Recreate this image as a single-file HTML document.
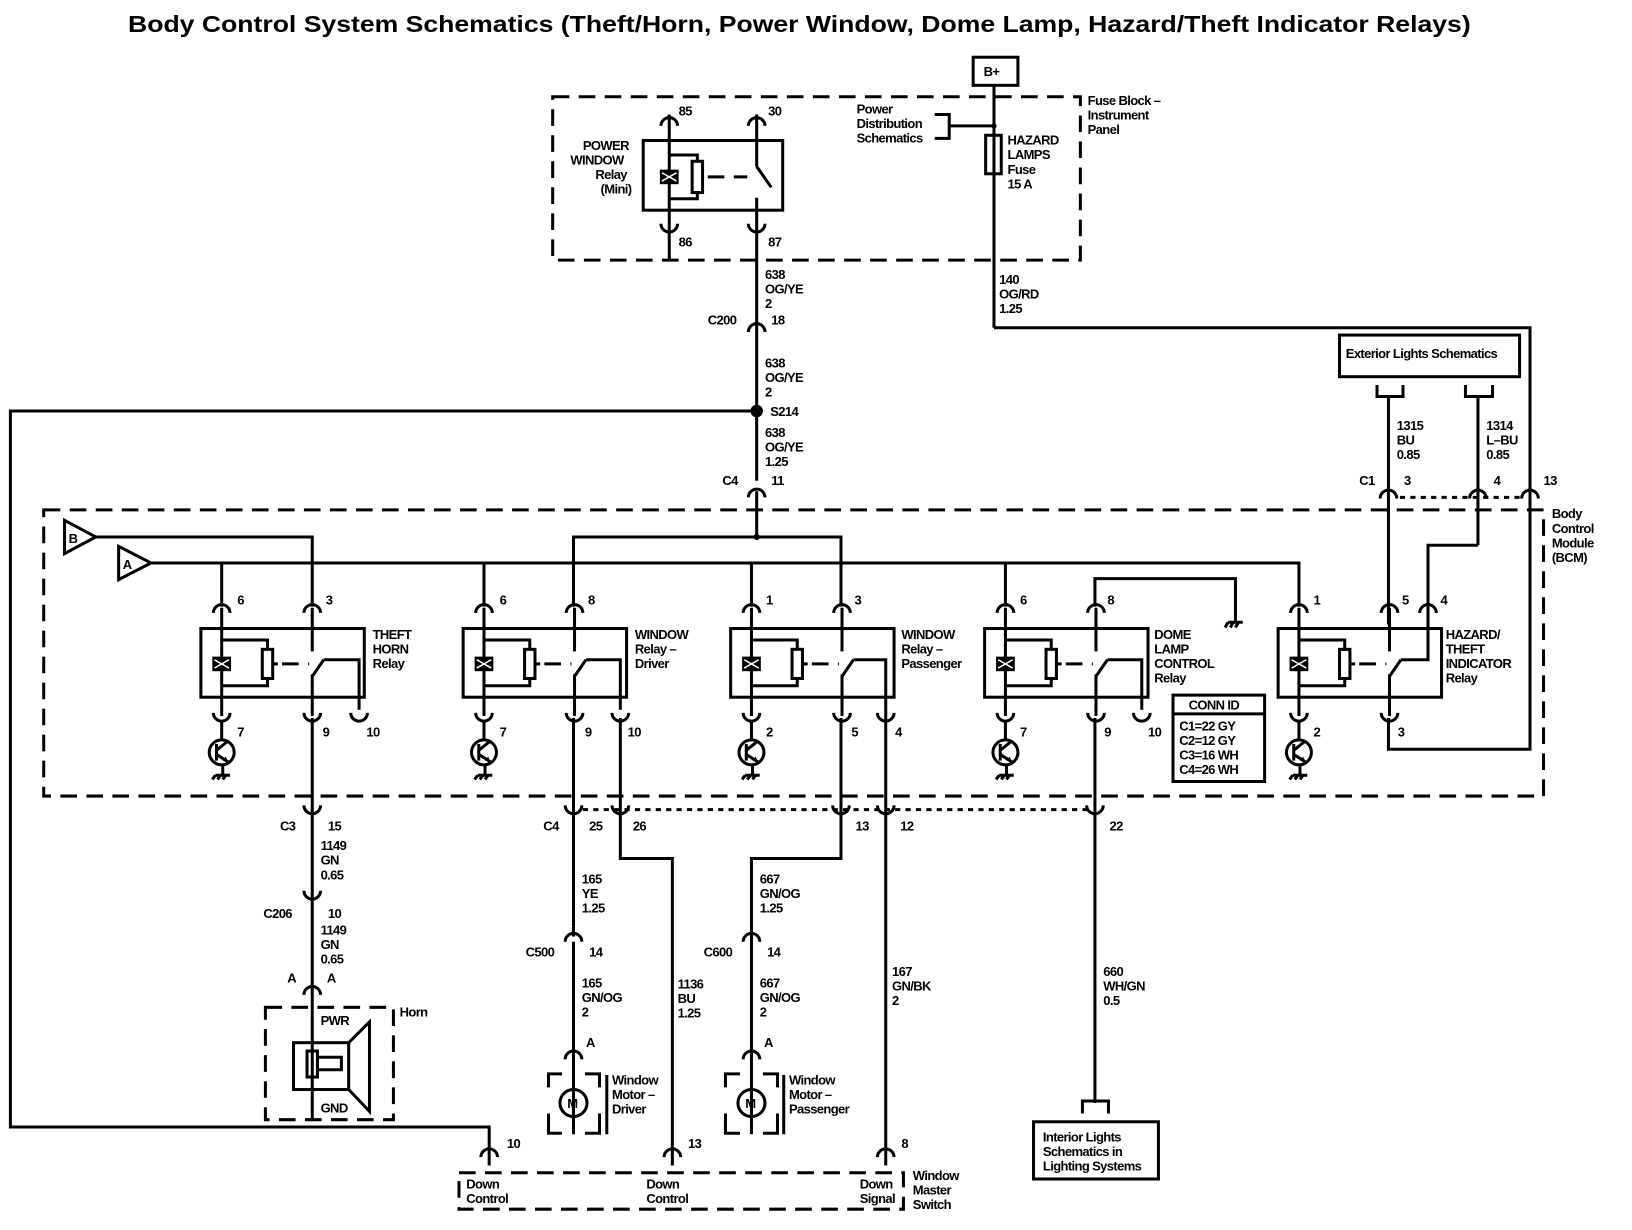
<!DOCTYPE html>
<html><head><meta charset="utf-8"><style>
html,body{margin:0;padding:0;background:#fff;}
svg{display:block;}
text{font-family:"Liberation Sans",sans-serif;font-weight:bold;font-size:12.5px;fill:#000;letter-spacing:-0.6px;}
.w{stroke:#000;stroke-width:2.9;fill:none;}
.d{stroke:#000;stroke-width:2.9;fill:none;stroke-dasharray:16 9;}
.dt{stroke:#000;stroke-width:2.9;fill:none;stroke-dasharray:5 5;}
</style></head><body>
<svg width="1632" height="1230" viewBox="0 0 1568 1182" preserveAspectRatio="none" xmlns="http://www.w3.org/2000/svg">
<defs>
<path id="cT" d="M-8 6 A8 8 0 0 1 8 6" class="w"/>
<path id="cB" d="M-8 -6 A8 8 0 0 0 8 -6" class="w"/>
<g id="relay">
 <rect x="0" y="0" width="157" height="66" class="w"/>
 <line x1="20" y1="-20" x2="20" y2="84" class="w" stroke-width="4"/>
 <rect x="11" y="27" width="18" height="14" fill="#000"/>
 <path d="M13 30 L27 38 M13 38 L27 30" stroke="#fff" stroke-width="1.5"/>
 <path d="M20 11 H64 V20 M64 48 V55 H20" class="w"/>
 <rect x="59" y="20" width="10" height="28" class="w"/>
 <line x1="69" y1="34" x2="74" y2="34" class="w"/>
 <line x1="78" y1="34" x2="104" y2="34" class="d" stroke-dasharray="10 7"/>
 <line x1="107" y1="-20" x2="107" y2="22" class="w" stroke-width="4"/>
 <path d="M107 46 L118 30" class="w"/>
 <line x1="107" y1="44" x2="107" y2="84" class="w" stroke-width="4"/>
 <use href="#cT" x="20" y="-21"/>
 <use href="#cT" x="107" y="-21"/>
 <use href="#cB" x="20" y="87"/>
 <use href="#cB" x="107" y="87"/>
</g>
<g id="tr">
 <circle cx="0" cy="0" r="12" class="w"/>
 <path d="M-5 -8 V8 M-5 -2 L5 -10 M-5 2 L6 9 M0 -12 V-30" class="w"/>
 <path d="M6 9 L1 8 L4 4 Z" fill="#000"/>
 <path d="M1 12 V22 M-6 22 H8 M-6 22 L-9 26 M-1 22 L-4 26 M4 22 L1 26" class="w" stroke-width="2"/>
</g>
</defs>

<text x="123" y="31" textLength="1290" lengthAdjust="spacingAndGlyphs" style="font-size:22px;letter-spacing:0">Body Control System Schematics (Theft/Horn, Power Window, Dome Lamp, Hazard/Theft Indicator Relays)</text>

<!-- B+ -->
<rect x="935" y="55" width="43" height="27" class="w" stroke-width="3"/>
<text x="945" y="73">B+</text>
<!-- Fuse block -->
<rect x="531" y="93" width="507" height="157" class="d"/>
<text x="1045" y="101">Fuse Block –</text><text x="1045" y="115">Instrument</text><text x="1045" y="129">Panel</text>
<!-- power window relay -->
<rect x="618" y="135" width="134" height="67" class="w"/>
<line x1="643" y1="110" x2="643" y2="250" class="w" stroke-width="4"/>
<rect x="634" y="163" width="18" height="14" fill="#000"/>
<path d="M636 166 L650 174 M636 174 L650 166" stroke="#fff" stroke-width="1.5"/>
<path d="M643 149 H670 V155 M670 185 V191 H643" class="w"/>
<rect x="665" y="155" width="10" height="30" class="w"/>
<line x1="680" y1="170" x2="718" y2="170" class="d" stroke-dasharray="10 7"/>
<line x1="727" y1="110" x2="727" y2="160" class="w" stroke-width="4"/>
<path d="M727 160 L741 180" class="w"/>
<line x1="727" y1="190" x2="727" y2="462" class="w"/>
<use href="#cT" x="643" y="115"/><use href="#cT" x="727" y="115"/>
<use href="#cB" x="643" y="221"/><use href="#cB" x="727" y="221"/>
<text x="652" y="111">85</text><text x="738" y="111">30</text>
<text x="652" y="237">86</text><text x="738" y="237">87</text>
<text x="560" y="144">POWER</text><text x="548" y="158">WINDOW</text><text x="572" y="172">Relay</text><text x="577" y="186">(Mini)</text>
<text x="823" y="109">Power</text><text x="823" y="123">Distribution</text><text x="823" y="137">Schematics</text>
<path d="M898 110 H912 V133 H898 M912 121 H955" class="w"/>
<circle cx="955" cy="121" r="2.5" fill="#000"/>
<line x1="955" y1="82" x2="955" y2="315" class="w"/>
<rect x="947" y="130" width="15" height="37" class="w" fill="#fff"/>
<text x="968" y="139">HAZARD</text><text x="968" y="153">LAMPS</text><text x="968" y="167">Fuse</text><text x="968" y="181">15 A</text>
<text x="960" y="273">140</text><text x="960" y="287">OG/RD</text><text x="960" y="301">1.25</text>
<path d="M955 315 H1470 V478" class="w"/>

<!-- main 638 wire -->
<text x="735" y="268">638</text><text x="735" y="282">OG/YE</text><text x="735" y="296">2</text>
<use href="#cT" x="727" y="313"/>
<text x="680" y="312">C200</text><text x="741" y="312">18</text>
<text x="735" y="353">638</text><text x="735" y="367">OG/YE</text><text x="735" y="381">2</text>
<circle cx="727" cy="395" r="6" fill="#000"/>
<text x="740" y="400">S214</text>
<text x="735" y="420">638</text><text x="735" y="434">OG/YE</text><text x="735" y="448">1.25</text>
<text x="694" y="466">C4</text><text x="741" y="466">11</text>
<use href="#cT" x="727" y="472"/>
<line x1="727" y1="472" x2="727" y2="516" class="w"/>
<path d="M727 395 H10 V1083 H470 V1120" class="w"/>

<!-- Exterior lights -->
<rect x="1287" y="322" width="173" height="40" class="w"/>
<text x="1293" y="344">Exterior Lights Schematics</text>
<path d="M1323 370 V381 H1348 V370 M1408 370 V381 H1434 V370" class="w"/>
<line x1="1334" y1="381" x2="1334" y2="600" class="w"/>
<line x1="1420" y1="381" x2="1420" y2="524" class="w"/>
<text x="1342" y="413">1315</text><text x="1342" y="427">BU</text><text x="1342" y="441">0.85</text>
<text x="1428" y="413">1314</text><text x="1428" y="427">L–BU</text><text x="1428" y="441">0.85</text>
<text x="1306" y="466">C1</text><text x="1349" y="466">3</text><text x="1435" y="466">4</text><text x="1483" y="466">13</text>
<use href="#cT" x="1334" y="473"/><use href="#cT" x="1420" y="473"/><use href="#cT" x="1470" y="473"/>
<line x1="1345" y1="478" x2="1460" y2="478" class="dt" stroke-dasharray="8 6"/>
<path d="M1420 524 H1372 V600" class="w"/>
<path d="M1334 690 V720 H1470 V478" class="w"/>

<!-- BCM -->
<rect x="42" y="490" width="1441" height="275" class="d"/>
<text x="1491" y="498">Body</text><text x="1491" y="512">Control</text><text x="1491" y="526">Module</text><text x="1491" y="540">(BCM)</text>
<path d="M62 500 L92 516 L62 532 Z" class="w" fill="#fff"/><text x="66" y="522">B</text>
<path d="M114 525 L145 541 L114 557 Z" class="w" fill="#fff"/><text x="118" y="547">A</text>
<path d="M92 516 H300 V583" class="w"/>
<path d="M551 583 V516 H808 V583" class="w"/>
<circle cx="727" cy="516" r="3" fill="#000"/>
<path d="M145 541 H1248 V583" class="w"/>
<path d="M213 541 V583 M465 541 V583 M722 541 V583 M966 541 V583" class="w"/>
<path d="M1052 583 V556 H1187 V598" class="w"/>
<path d="M1180 598 H1194 M1180 598 L1177 603 M1185 598 L1182 603 M1190 598 L1187 603" class="w" stroke-width="2"/>

<!-- relays -->
<use href="#relay" x="193" y="604"/>
<use href="#relay" x="445" y="604"/>
<use href="#relay" x="702" y="604"/>
<use href="#relay" x="946" y="604"/>
<use href="#relay" x="1228" y="604"/>
<!-- third contacts -->
<path d="M311 634 H345 V682" class="w"/><use href="#cB" x="345" y="691"/>
<path d="M563 634 H596 V682" class="w"/><use href="#cB" x="596" y="691"/>
<path d="M820 634 H851 V690" class="w"/><use href="#cB" x="851" y="691"/>
<path d="M1064 634 H1097 V682" class="w"/><use href="#cB" x="1097" y="691"/>
<path d="M1346 634 H1372 V583" class="w"/><use href="#cT" x="1372" y="583"/>
<!-- pin labels -->
<text x="228" y="581">6</text><text x="313" y="581">3</text><text x="228" y="708">7</text><text x="310" y="708">9</text><text x="352" y="708">10</text>
<text x="480" y="581">6</text><text x="565" y="581">8</text><text x="480" y="708">7</text><text x="562" y="708">9</text><text x="603" y="708">10</text>
<text x="736" y="581">1</text><text x="821" y="581">3</text><text x="736" y="708">2</text><text x="818" y="708">5</text><text x="860" y="708">4</text>
<text x="980" y="581">6</text><text x="1064" y="581">8</text><text x="980" y="708">7</text><text x="1061" y="708">9</text><text x="1103" y="708">10</text>
<text x="1262" y="581">1</text><text x="1347" y="581">5</text><text x="1384" y="581">4</text><text x="1262" y="708">2</text><text x="1343" y="708">3</text>
<!-- relay names -->
<text x="358" y="614">THEFT</text><text x="358" y="628">HORN</text><text x="358" y="642">Relay</text>
<text x="610" y="614">WINDOW</text><text x="610" y="628">Relay –</text><text x="610" y="642">Driver</text>
<text x="866" y="614">WINDOW</text><text x="866" y="628">Relay –</text><text x="866" y="642">Passenger</text>
<text x="1109" y="614">DOME</text><text x="1109" y="628">LAMP</text><text x="1109" y="642">CONTROL</text><text x="1109" y="656">Relay</text>
<text x="1389" y="614">HAZARD/</text><text x="1389" y="628">THEFT</text><text x="1389" y="642">INDICATOR</text><text x="1389" y="656">Relay</text>
<!-- transistors -->
<use href="#tr" x="213" y="723"/><use href="#tr" x="465" y="723"/><use href="#tr" x="722" y="723"/><use href="#tr" x="966" y="723"/><use href="#tr" x="1248" y="723"/>
<!-- conn id -->
<rect x="1127" y="668" width="88" height="83" class="w"/>
<line x1="1127" y1="686" x2="1215" y2="686" class="w"/>
<text x="1142" y="682">CONN ID</text>
<text x="1133" y="702">C1=22 GY</text><text x="1133" y="716">C2=12 GY</text><text x="1133" y="730">C3=16 WH</text><text x="1133" y="744">C4=26 WH</text>

<!-- below BCM -->
<line x1="300" y1="690" x2="300" y2="1075" class="w"/>
<use href="#cB" x="300" y="780"/>
<text x="269" y="798">C3</text><text x="315" y="798">15</text>
<text x="308" y="817">1149</text><text x="308" y="831">GN</text><text x="308" y="845">0.65</text>
<use href="#cB" x="300" y="862"/>
<text x="253" y="882">C206</text><text x="315" y="882">10</text>
<text x="308" y="898">1149</text><text x="308" y="912">GN</text><text x="308" y="926">0.65</text>
<text x="276" y="944">A</text><text x="314" y="944">A</text>
<use href="#cT" x="300" y="950"/>
<rect x="255" y="968" width="123" height="108" class="d"/>
<text x="384" y="977">Horn</text>
<text x="308" y="985">PWR</text><text x="308" y="1069">GND</text>
<rect x="282" y="1002" width="53" height="45" class="w"/>
<path d="M335 1002 L355 982 V1068 L335 1047" class="w"/>
<rect x="295" y="1010" width="10" height="25" class="w" fill="#fff"/>
<path d="M305 1016 H328 V1028 H305" class="w"/>

<line x1="551" y1="690" x2="551" y2="890" class="w"/>
<use href="#cB" x="551" y="780"/>
<line x1="560" y1="778" x2="1045" y2="778" class="dt"/>
<text x="522" y="798">C4</text><text x="566" y="798">25</text><text x="608" y="798">26</text>
<text x="559" y="849">165</text><text x="559" y="863">YE</text><text x="559" y="877">1.25</text>
<path d="M543 905 A8 8 0 0 1 559 905" class="w"/><line x1="551" y1="890" x2="551" y2="900" class="w" stroke-width="5"/>
<text x="505" y="919">C500</text><text x="566" y="919">14</text>
<line x1="551" y1="905" x2="551" y2="1090" class="w"/>
<text x="559" y="949">165</text><text x="559" y="963">GN/OG</text><text x="559" y="977">2</text>
<text x="563" y="1006">A</text>
<use href="#cT" x="551" y="1012"/>
<path d="M527 1045 V1032 H540 M562 1032 H576 V1045 M527 1070 V1089 H540 M562 1089 H576 V1070" class="w"/>
<circle cx="551" cy="1060" r="13" class="w"/><text x="545" y="1065">M</text>
<line x1="583" y1="1033" x2="583" y2="1090" class="w"/>
<text x="588" y="1042">Window</text><text x="588" y="1056">Motor –</text><text x="588" y="1070">Driver</text>

<path d="M596 690 V825 H646 V1120" class="w"/><use href="#cB" x="596" y="780"/>
<text x="651" y="950">1136</text><text x="651" y="964">BU</text><text x="651" y="978">1.25</text>

<path d="M808 690 V825 H722 V1090" class="w"/><use href="#cB" x="808" y="780"/>
<text x="822" y="798">13</text>
<text x="730" y="849">667</text><text x="730" y="863">GN/OG</text><text x="730" y="877">1.25</text>
<path d="M714 905 A8 8 0 0 1 730 905" class="w"/>
<text x="676" y="919">C600</text><text x="737" y="919">14</text>
<text x="730" y="949">667</text><text x="730" y="963">GN/OG</text><text x="730" y="977">2</text>
<text x="734" y="1006">A</text>
<use href="#cT" x="722" y="1012"/>
<path d="M697 1045 V1032 H711 M733 1032 H747 V1045 M697 1070 V1089 H711 M733 1089 H747 V1070" class="w"/>
<circle cx="722" cy="1060" r="13" class="w"/><text x="716" y="1065">M</text>
<line x1="753" y1="1033" x2="753" y2="1090" class="w"/>
<text x="758" y="1042">Window</text><text x="758" y="1056">Motor –</text><text x="758" y="1070">Passenger</text>

<line x1="851" y1="690" x2="851" y2="1120" class="w"/><use href="#cB" x="851" y="780"/>
<text x="865" y="798">12</text>
<text x="857" y="938">167</text><text x="857" y="952">GN/BK</text><text x="857" y="966">2</text>

<line x1="1052" y1="690" x2="1052" y2="1060" class="w"/><use href="#cB" x="1052" y="780"/>
<text x="1066" y="798">22</text>
<text x="1060" y="938">660</text><text x="1060" y="952">WH/GN</text><text x="1060" y="966">0.5</text>
<path d="M1040 1070 V1058 H1065 V1070" class="w"/>
<rect x="993" y="1078" width="120" height="55" class="w"/>
<text x="1002" y="1097">Interior Lights</text><text x="1002" y="1111">Schematics in</text><text x="1002" y="1125">Lighting Systems</text>

<!-- window master switch -->
<use href="#cT" x="470" y="1106"/><use href="#cT" x="646" y="1106"/><use href="#cT" x="851" y="1106"/>
<text x="487" y="1103">10</text><text x="661" y="1103">13</text><text x="866" y="1103">8</text>
<rect x="441" y="1127" width="427" height="35" class="d"/>
<text x="448" y="1142">Down</text><text x="448" y="1156">Control</text>
<text x="621" y="1142">Down</text><text x="621" y="1156">Control</text>
<text x="826" y="1142">Down</text><text x="826" y="1156">Signal</text>
<text x="877" y="1134">Window</text><text x="877" y="1148">Master</text><text x="877" y="1162">Switch</text>
</svg>
</body></html>
